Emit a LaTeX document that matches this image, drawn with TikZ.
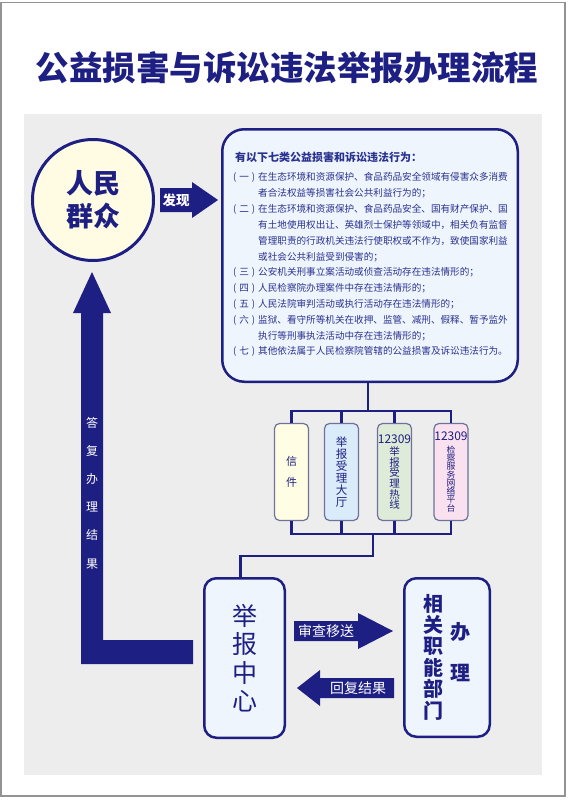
\documentclass[tikz,border=0pt]{standalone}
\usepackage{fontspec}
\setmainfont{Noto Sans CJK SC}
\usetikzlibrary{positioning}
\definecolor{navy}{HTML}{1E1F82}
\definecolor{textblue}{HTML}{2A3290}
\definecolor{panel}{HTML}{EDEDED}
\definecolor{pale}{HTML}{EEF5FD}
\definecolor{cream}{HTML}{FFFCE3}
\definecolor{chanline}{HTML}{6E7199}
\definecolor{chanyel}{HTML}{FFFDE3}
\definecolor{chanblue}{HTML}{DAEBFA}
\definecolor{changreen}{HTML}{DDEBD8}
\definecolor{chanpink}{HTML}{FAE1EF}
\newcommand{\setfs}[2]{\fontsize{#1}{#2}\selectfont}
\newcommand{\lab}[1]{\makebox[22pt]{(\hfill#1\hfill)}\hspace{3pt}}
\tikzstyle{box}=[draw=navy, line width=2.5pt, rounded corners=12pt, fill=pale]
\tikzstyle{chan}=[draw=chanline, line width=1.2pt, rounded corners=5pt, minimum width=34pt, minimum height=97pt, inner sep=0pt, text=navy, align=center]
\tikzstyle{wire}=[draw=navy, line width=2.5pt]
\tikzstyle{lbl}=[text=white, inner sep=0pt]

\begin{document}
\begin{tikzpicture}[x=1pt, y=-1pt]
\useasboundingbox (0,0) rectangle (569,800);
\draw[gray!85, line width=1.5pt] (0.75,2.5) rectangle (565,796);
\fill[panel] (24,114) rectangle (542,775);
\node[text=navy, font=\setfs{33.5}{40}\bfseries] (title) at (287,68) {公益损害与诉讼违法举报办理流程};

% source
\node[circle, draw=navy, line width=3pt, fill=cream, minimum size=121pt, inner sep=0pt, text=navy, align=center, font=\setfs{27}{33}\bfseries] (people) at (93,200) {人民\\群众};
\fill[navy] (160,188) -- (192,188) -- (192,182) -- (218,200) -- (192,218) -- (192,212) -- (160,212) -- cycle;
\node[lbl, font=\setfs{13.5}{14}\bfseries] (find) at (176,200) {发现};

% list of cases
\node[box, rounded corners=22pt, minimum width=295.5pt, minimum height=252.5pt] (list) at (370,255.5) {};
\node[anchor=west, text=textblue, font=\setfs{11}{12}\bfseries, inner sep=0pt] (head) at (235,157) {有以下七类公益损害和诉讼违法行为：};
\foreach \x/\t [count=\i] in {
  233/\lab{一}在生态环境和资源保护、食品药品安全领域有侵害众多消费,
  258/者合法权益等损害社会公共利益行为的；,
  233/\lab{二}在生态环境和资源保护、食品药品安全、国有财产保护、国,
  258/有土地使用权出让、英雄烈士保护等领域中，相关负有监督,
  258/管理职责的行政机关违法行使职权或不作为，致使国家利益,
  258/或社会公共利益受到侵害的；,
  233/\lab{三}公安机关刑事立案活动或侦查活动存在违法情形的；,
  233/\lab{四}人民检察院办理案件中存在违法情形的；,
  233/\lab{五}人民法院审判活动或执行活动存在违法情形的；,
  233/\lab{六}监狱、看守所等机关在收押、监管、减刑、假释、暂予监外,
  258/执行等刑事执法活动中存在违法情形的；,
  233/\lab{七}其他依法属于人民检察院管辖的公益损害及诉讼违法行为。}
  \node[anchor=west, text=textblue, font=\setfs{9.6}{10}, inner sep=0pt] (l\i) at (\x,162+15.8*\i) {\t};

% channels
\node[chan, fill=chanyel, font=\setfs{11}{21}] (c1) at (291.5,472) {信\\件};
\node[chan, fill=chanblue, font=\setfs{11.5}{12}] (c2) at (341.5,472) {举\\报\\受\\理\\大\\厅};
\node[chan, fill=changreen, font=\setfs{10.5}{10.6}] (c3) at (394.5,472) {{\setfs{12}{10.6}12309}\\[2pt]举\\报\\受\\理\\热\\线};
\node[chan, fill=chanpink, font=\setfs{8.8}{8.3}] (c4) at (451,472) {{\setfs{12}{8.3}12309}\\[4pt]检\\察\\服\\务\\网\\络\\平\\台};

\coordinate (top) at (368,411);
\coordinate (bot) at (373,534);
\draw[wire] (list.south -| top) -- (top);
\foreach \c in {c1,c2,c3,c4} {
  \draw[wire] (top) -| (\c.north);
  \draw[wire] (\c.south) |- (bot);
}

% handling
\node[box, minimum width=80.5pt, minimum height=159.5pt, text=navy, align=center, font=\setfs{25}{28.5}] (center) at (244.5,658) {举\\报\\中\\心};
\draw[wire] (bot) -- (373,556) -| ([xshift=-4pt]center.north);

\node[box, minimum width=85.5pt, minimum height=158.5pt] (dept) at (447,657.5) {};
\node[text=navy, align=center, font=\setfs{20}{21.4}\bfseries] (deptname) at (433,657) {相\\关\\职\\能\\部\\门};
\node[text=navy, align=center, font=\setfs{20}{41}\bfseries] (handle) at (460,652.5) {办\\理};

\fill[navy] (294,621) -- (358,621) -- (358,613) -- (393,631) -- (358,649) -- (358,641) -- (294,641) -- cycle;
\node[lbl, font=\setfs{14}{14}] (send) at (326,631) {审查移送};
\fill[navy] (394,678) -- (320,678) -- (320,670) -- (297,688) -- (320,706) -- (320,698) -- (394,698) -- cycle;
\node[lbl, font=\setfs{14}{14}] (back) at (358,688) {回复结果};

% reply
\fill[navy] (193,640) -- (103,640) -- (103,313) -- (111,313) -- (92,272) -- (73,313) -- (81,313) -- (81,664) -- (193,664) -- cycle;
\node[lbl, align=center, font=\setfs{12}{28.2}] (reply) at (92,493) {答\\复\\办\\理\\结\\果};
\end{tikzpicture}
\end{document}
